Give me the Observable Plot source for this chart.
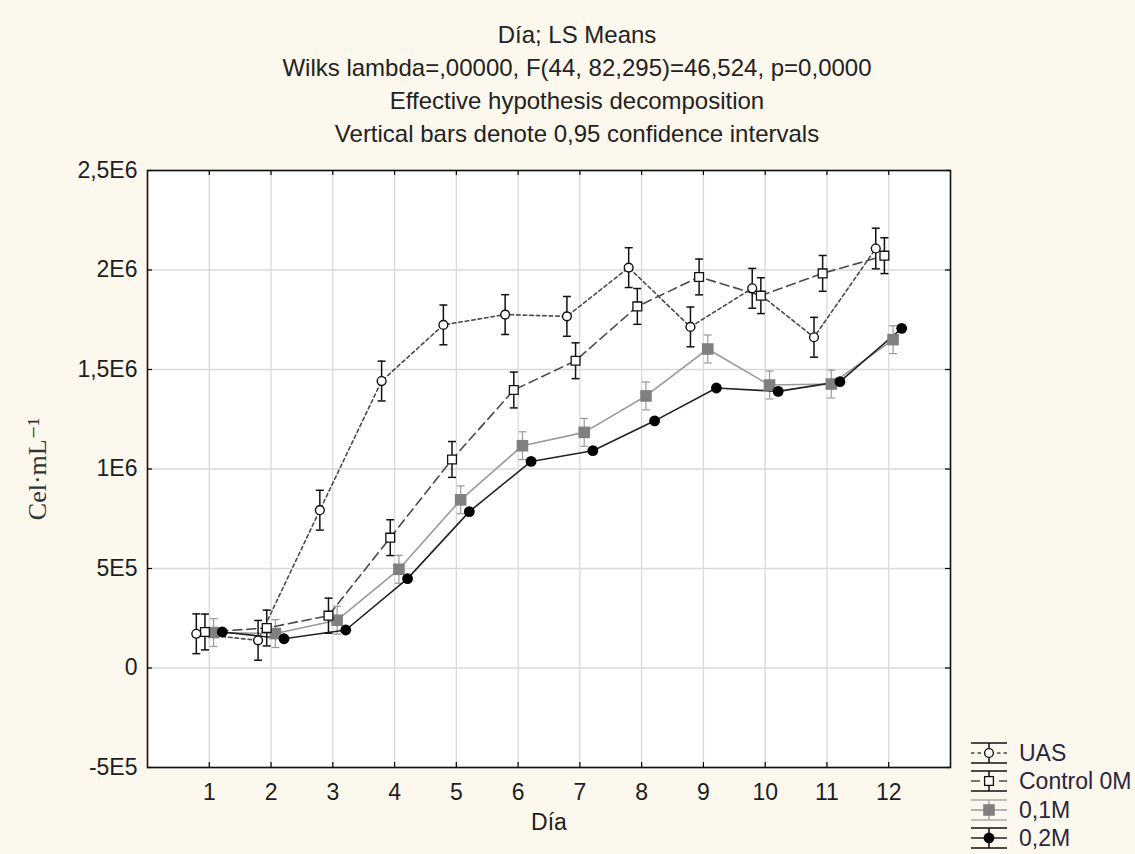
<!DOCTYPE html>
<html>
<head>
<meta charset="utf-8">
<script src="https://cdn.jsdelivr.net/npm/d3@7"></script>
<script src="https://cdn.jsdelivr.net/npm/@observablehq/plot@0.6"></script>
<style>
  body { margin: 0; background: #fdf8ed; font-family: "Liberation Sans", Arial, sans-serif; }
  #wrap { position: relative; width: 1135px; height: 854px; overflow: hidden; }
  #title { box-sizing: border-box; height: 150px; padding-top: 18px; padding-left: 19px; text-align: center;
           font-size: 24px; line-height: 33px; color: #222; }
  #legend { position: absolute; left: 960px; top: 735px; }
</style>
</head>
<body>
<div id="wrap">
  <div id="title">
    <div>Día; LS Means</div>
    <div>Wilks lambda=,00000, F(44, 82,295)=46,524, p=0,0000</div>
    <div>Effective hypothesis decomposition</div>
    <div>Vertical bars denote 0,95 confidence intervals</div>
  </div>
  <div id="chart"></div>
  <svg id="legend" width="175" height="119"></svg>
</div>
<script>
// ---- data ----
const days = [1, 2, 3, 4, 5, 6, 7, 8, 9, 10, 11, 12];
const xTickLabels = ["1", "2", "3", "4", "5", "6", "7", "8", "9", "10", "11", "12"];
const yTickValues = [-500000, 0, 500000, 1000000, 1500000, 2000000, 2500000];
const yTickLabels = ["-5E5", "0", "5E5", "1E6", "1,5E6", "2E6", "2,5E6"];
const seriesNames = ["UAS", "Control 0M", "0,1M", "0,2M"];

const uasMean = [172000, 139000, 793000, 1442000, 1724000, 1776000, 1767000, 2012000, 1714000, 1908000, 1662000, 2108000];
const uasErr  = [100000, 100000, 100000, 100000, 100000, 100000, 100000, 100000, 100000, 100000, 100000, 102000];
const ctlMean = [181000, 201000, 263000, 655000, 1048000, 1397000, 1544000, 1817000, 1965000, 1871000, 1983000, 2072000];
const ctlErr  = [90000, 90000, 88000, 90000, 90000, 90000, 90000, 90000, 90000, 90000, 90000, 90000];
const m01Mean = [178000, 173000, 240000, 496000, 845000, 1117000, 1184000, 1367000, 1603000, 1422000, 1427000, 1650000];
const m01Err  = [70000, 70000, 70000, 70000, 70000, 70000, 70000, 70000, 70000, 70000, 70000, 70000];
const m02Mean = [181000, 147000, 191000, 449000, 786000, 1038000, 1092000, 1242000, 1407000, 1390000, 1439000, 1707000];
const m02Err  = [0, 0, 0, 0, 0, 0, 0, 0, 0, 0, 0, 0];

const means = [uasMean, ctlMean, m01Mean, m02Mean];
const errs = [uasErr, ctlErr, m01Err, m02Err];
const dodge = [-0.21, -0.07, 0.07, 0.21];

const rows = [];
seriesNames.forEach((s, k) => {
  days.forEach((d, i) => {
    rows.push({series: s, day: d, x: d + dodge[k], y: means[k][i], lo: means[k][i] - errs[k][i], hi: means[k][i] + errs[k][i], err: errs[k][i]});
  });
});

const styles = {
  "UAS":        {line: "#4a4a4a", dash: "3.5,3", lw: 1.6, sym: "circle", r: 4.4, fill: "white", stroke: "#111", sw: 1.4, err: "#111", ew: 1.5},
  "Control 0M": {line: "#4a4a4a", dash: "9,5",   lw: 1.6, sym: "square", r: 4.4, fill: "white", stroke: "#111", sw: 1.3, err: "#111", ew: 1.5},
  "0,1M":       {line: "#9a9a9a", dash: null,    lw: 1.6, sym: "square", r: 5.8, fill: "#808080", stroke: "none", sw: 0, err: "#999", ew: 1.2},
  "0,2M":       {line: "#222",    dash: null,    lw: 1.6, sym: "circle", r: 5.4, fill: "#000", stroke: "none", sw: 0, err: "#000", ew: 1.2}
};

const cap = {draw(ctx, size) { const r = Math.sqrt(size / Math.PI); ctx.moveTo(-r, 0); ctx.lineTo(r, 0); }};
const squareSym = {draw(ctx, size) { const r = Math.sqrt(size / Math.PI); ctx.moveTo(-r, -r); ctx.lineTo(r, -r); ctx.lineTo(r, r); ctx.lineTo(-r, r); ctx.closePath(); }};

const W = 1135, H = 704, mL = 147, mR = 185, mT = 20, mB = 87;
const innerW = W - mL - mR, innerH = H - mT - mB;

const order = ["0,1M", "0,2M", "Control 0M", "UAS"];
const seriesMarks = [];
for (const s of order) {
  const st = styles[s];
  const data = rows.filter(r => r.series === s);
  const withErr = data.filter(r => r.err > 0);
  seriesMarks.push(
    Plot.line(data, {x: "x", y: "y", stroke: st.line, strokeWidth: st.lw, strokeDasharray: st.dash})
  );
  seriesMarks.push(
    Plot.ruleX(withErr, {x: "x", y1: "lo", y2: "hi", stroke: st.err, strokeWidth: st.ew}),
    Plot.dot(withErr, {x: "x", y: "lo", symbol: cap, r: 4, fill: "none", stroke: st.err, strokeWidth: st.ew}),
    Plot.dot(withErr, {x: "x", y: "hi", symbol: cap, r: 4, fill: "none", stroke: st.err, strokeWidth: st.ew})
  );
}
for (const s of order) {
  const st = styles[s];
  const data = rows.filter(r => r.series === s);
  seriesMarks.push(
    Plot.dot(data, {x: "x", y: "y", symbol: st.sym === "square" ? squareSym : "circle", r: st.r, fill: st.fill, stroke: st.stroke, strokeWidth: st.sw})
  );
}

const chart = Plot.plot({
  width: W, height: H,
  marginLeft: mL, marginRight: mR, marginTop: mT, marginBottom: mB,
  style: {background: "transparent", fontFamily: "'Liberation Sans', Arial, sans-serif", fontSize: "23px", color: "#1e1e1e", overflow: "visible"},
  x: {domain: [0, 13], ticks: days, tickFormat: d => xTickLabels[days.indexOf(d)], tickSize: 0, tickPadding: 16, label: null},
  y: {domain: [-500000, 2500000], ticks: yTickValues, tickFormat: d => yTickLabels[yTickValues.indexOf(d)], tickSize: 0, tickPadding: 10, label: null},
  marks: [
    Plot.frame({fill: "white", stroke: "none"}),
    Plot.ruleX(days, {x: d => d, stroke: "#d9d9d9", strokeWidth: 1.3}),
    Plot.ruleY(yTickValues, {y: d => d, stroke: "#d9d9d9", strokeWidth: 1.3}),
    Plot.tickY(yTickValues, {y: d => d, insetRight: innerW - 5, stroke: "#000", strokeWidth: 1.2}),
    Plot.tickY(yTickValues, {y: d => d, insetLeft: innerW - 5, stroke: "#000", strokeWidth: 1.2}),
    Plot.tickX(days, {x: d => d, insetBottom: innerH - 5, stroke: "#000", strokeWidth: 1.2}),
    Plot.tickX(days, {x: d => d, insetTop: innerH - 5, stroke: "#000", strokeWidth: 1.2}),
    ...seriesMarks,
    Plot.frame({stroke: "#111", strokeWidth: 1.6}),
    Plot.text(["Día"], {frameAnchor: "bottom", dy: 62, fontSize: 23, fill: "#1e1e1e"}),
    Plot.text(["Cel·mL⁻¹"], {frameAnchor: "left", textAnchor: "middle", dx: -110, rotate: -90, fontSize: 26, fill: "#333", fontFamily: "'Liberation Serif', 'DejaVu Serif', serif"})
  ]
});
document.getElementById("chart").appendChild(chart);

// ---- legend ----
const lg = d3.select("#legend");
const rowY = [18, 46, 75, 103];
const x0 = 11, x1 = 47, xc = 29;
seriesNames.forEach((s, i) => {
  const st = styles[s];
  const cy = rowY[i];
  const g = lg.append("g");
  const capColor = s === "0,1M" ? "#aaa" : "#111";
  g.append("line").attr("x1", x0).attr("x2", x1).attr("y1", cy - 10).attr("y2", cy - 10).attr("stroke", capColor).attr("stroke-width", 1.5);
  g.append("line").attr("x1", x0).attr("x2", x1).attr("y1", cy + 10).attr("y2", cy + 10).attr("stroke", capColor).attr("stroke-width", 1.5);
  g.append("line").attr("x1", xc).attr("x2", xc).attr("y1", cy - 10).attr("y2", cy + 10).attr("stroke", capColor).attr("stroke-width", 1.5);
  g.append("line").attr("x1", x0).attr("x2", x1).attr("y1", cy).attr("y2", cy).attr("stroke", st.line).attr("stroke-width", 1.6).attr("stroke-dasharray", st.dash);
  if (st.sym === "circle") {
    g.append("circle").attr("cx", xc).attr("cy", cy).attr("r", st.r).attr("fill", st.fill).attr("stroke", st.stroke).attr("stroke-width", st.sw);
  } else {
    g.append("rect").attr("x", xc - st.r).attr("y", cy - st.r).attr("width", 2 * st.r).attr("height", 2 * st.r).attr("fill", st.fill).attr("stroke", st.stroke).attr("stroke-width", st.sw);
  }
  g.append("text").attr("x", 59).attr("y", cy).attr("dy", "0.36em").attr("font-size", 23).attr("fill", "#2a2440")
    .attr("font-family", "'Liberation Sans', Arial, sans-serif").text(s);
});
</script>
</body>
</html>
